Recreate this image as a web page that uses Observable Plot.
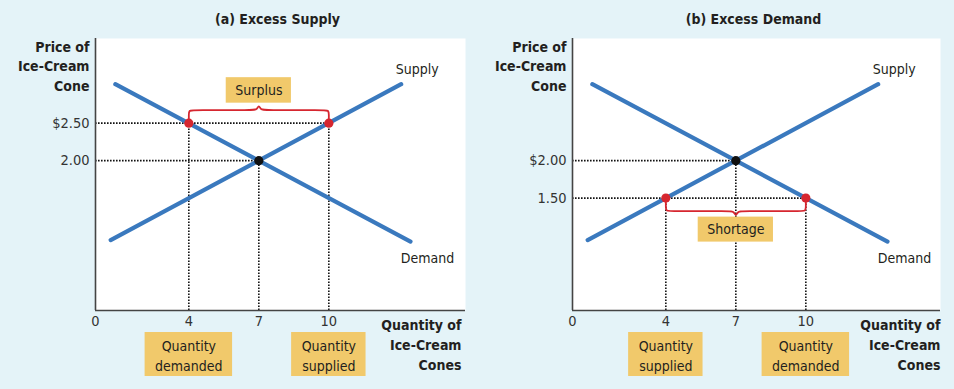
<!DOCTYPE html>
<html><head><meta charset="utf-8">
<script src="https://cdn.jsdelivr.net/npm/d3@7"></script>
<script src="https://cdn.jsdelivr.net/npm/@observablehq/plot@0.6"></script>
<style>
html,body{margin:0;padding:0;background:#e4f3f8;}
#wrap{display:flex;width:954px;height:389px;}
#wrap svg{display:block;flex:none;}
</style></head><body><div id="wrap"></div>
<script>
// ---- data ----
const panelTitles = ["(a) Excess Supply", "(b) Excess Demand"];
const quantityTicks = [0, 4, 7, 10];
const priceTicks = [[2.5, 2.0], [2.0, 1.5]];
const priceTickLabels = [["$2.50", "2.00"], ["$2.00", "1.50"]];
const equilibriumQ = 7;
const equilibriumP = 2.0;
const gapPrice = [2.5, 1.5];
const gapQuantityLow = [4, 4];
const gapQuantityHigh = [10, 10];
const gapLabels = ["Surplus", "Shortage"];
const lowQuantityLabels = ["Quantity\ndemanded", "Quantity\nsupplied"];
const highQuantityLabels = ["Quantity\nsupplied", "Quantity\ndemanded"];
const supplyQ = [0.65, 13.1];
const supplyP = [0.94, 3.02];
const demandQ = [0.85, 13.5];
const demandP = [3.02, 0.92];
const curveNames = ["Supply", "Demand"];
const axisTitleY = "Price of\nIce-Cream\nCone";
const axisTitleX = "Quantity of\nIce-Cream\nCones";

// ---- style ----
const FONT = '"Liberation Sans Narrow", "DejaVu Sans Condensed", Roboto, sans-serif';
const BLUE = "#3a79be", RED = "#d6262f", GOLD = "#f1c96b", INK = "#231f20", AXIS = "#444";
const pxPerQ = 70 / 3;
const yMax = 3.63;
const ctx = document.createElement("canvas").getContext("2d");
function textWidth(s, size, weight = "normal") {
  ctx.font = `${weight} ${size}px ${FONT}`;
  return Math.max(...s.split("\n").map(l => ctx.measureText(l).width));
}

function panel(i) {
  const W = 477, H = 389, mt = 38, mb = 79, ml = 95, mr = i === 0 ? 12 : 14;
  const plotW = W - ml - mr, plotH = H - mt - mb;
  const xMax = plotW / pxPerQ;
  const qPerPx = 1 / pxPerQ, pPerPx = yMax / plotH;
  const p0 = gapPrice[i], q1 = gapQuantityLow[i], q2 = gapQuantityHigh[i];
  const dir = i === 0 ? 1 : -1; // brace above (surplus) or below (shortage)
  const L = (q2 - q1) / qPerPx;
  const braceCtrl = [[0,4],[0,8],[0,13],[5,13],[L/2-5,13],[L/2-2,13.5],[L/2,18.5],[L/2+2,13.5],[L/2+5,13],[L-5,13],[L,13],[L,8],[L,4]];
  const brace = braceCtrl.map(([dx, dy]) => ({q: q1 + dx * qPerPx, p: p0 + dir * dy * pPerPx}));
  const mid = (q1 + q2) / 2;
  const gapW = textWidth(gapLabels[i], 14) + 18;
  const lowW = textWidth(lowQuantityLabels[i], 14) + 20;
  const highW = textWidth(highQuantityLabels[i], 14) + 20;
  const tickMap = new Map(priceTicks[i].map((v, j) => [v, priceTickLabels[i][j]]));
  const supply = supplyQ.map((q, j) => ({q, p: supplyP[j]}));
  const demand = demandQ.map((q, j) => ({q, p: demandP[j]}));
  const hRules = [{p: p0, q: q2}, {p: equilibriumP, q: equilibriumQ}];
  const vRules = [{q: q1, p: p0}, {q: q2, p: p0}, {q: equilibriumQ, p: equilibriumP}];
  const dotted = {stroke: "#111", strokeWidth: 1.6, strokeDasharray: "1.6 1.4"};
  const gapBoxInsets = dir === 1 ? {insetTop: -45.5, insetBottom: 20} : {insetTop: 19, insetBottom: -44};
  const qBox = (q, w) => Plot.rect([q], {x1: d => d, x2: d => d, y1: () => 0, y2: () => 0, fill: GOLD,
    insetLeft: -w / 2, insetRight: -w / 2, insetTop: 22, insetBottom: -66});

  return Plot.plot({
    width: W, height: H,
    marginTop: mt, marginBottom: mb, marginLeft: ml, marginRight: mr,
    x: {domain: [0, xMax]},
    y: {domain: [0, yMax]},
    style: {background: "transparent", fontFamily: FONT, color: INK, overflow: "visible"},
    marks: [
      Plot.frame({fill: "white", stroke: "none"}),
      Plot.ruleY(hRules, {y: "p", x1: 0, x2: "q", ...dotted}),
      Plot.ruleX(vRules, {x: "q", y1: 0, y2: "p", ...dotted}),
      Plot.line(supply, {x: "q", y: "p", stroke: BLUE, strokeWidth: 4.2}),
      Plot.line(demand, {x: "q", y: "p", stroke: BLUE, strokeWidth: 4.2}),
      Plot.line(brace, {x: "q", y: "p", stroke: RED, strokeWidth: 1.8, curve: "basis"}),
      Plot.dot([q1, q2], {x: d => d, y: () => p0, r: 4.6, fill: RED}),
      Plot.dot([equilibriumQ], {x: d => d, y: () => equilibriumP, r: 4.6, fill: "#111"}),
      Plot.ruleX([0], {stroke: AXIS, strokeWidth: 1.6}),
      Plot.ruleY([0], {stroke: AXIS, strokeWidth: 1.6}),
      Plot.axisY({ticks: priceTicks[i], tickFormat: d => tickMap.get(d), tickSize: 0, tickPadding: 6, fontSize: 14.5, label: null, color: "#333"}),
      Plot.axisX({ticks: quantityTicks, tickFormat: d => String(d), tickSize: 0, tickPadding: 5, fontSize: 14.5, label: null, color: "#333"}),
      // gap box + label
      Plot.rect([mid], {x1: d => d, x2: d => d, y1: () => p0, y2: () => p0, fill: GOLD,
        insetLeft: -gapW / 2, insetRight: -gapW / 2, ...gapBoxInsets}),
      Plot.text([gapLabels[i]], {x: () => mid, y: () => p0, dy: dir === 1 ? -32.5 : 31.5, fontSize: 14, fill: INK}),
      // quantity boxes below axis
      qBox(q1, lowW),
      qBox(q2, highW),
      Plot.text([lowQuantityLabels[i]], {x: () => q1, y: () => 0, dy: 44, fontSize: 14, lineHeight: 1.45, lineAnchor: "middle", fill: INK}),
      Plot.text([highQuantityLabels[i]], {x: () => q2, y: () => 0, dy: 44, fontSize: 14, lineHeight: 1.45, lineAnchor: "middle", fill: INK}),
      // curve names
      Plot.text([curveNames[0]], {x: () => supplyQ[1], y: () => supplyP[1], dx: 16, dy: -15, fontSize: 14, fill: INK}),
      Plot.text([curveNames[1]], {x: () => demandQ[1], y: () => demandP[1], dx: 17, dy: 17, fontSize: 14, fill: INK}),
      // titles
      Plot.text([panelTitles[i]], {frameAnchor: "top", lineAnchor: "middle", dx: -3, dy: -19, fontSize: 14, fontWeight: "bold", fill: INK}),
      Plot.text([axisTitleY], {frameAnchor: "top-left", lineAnchor: "middle", textAnchor: "end", dx: -6, dy: 26.5, fontSize: 14, fontWeight: "bold", lineHeight: 1.39, fill: INK}),
      Plot.text([axisTitleX], {frameAnchor: "bottom-right", lineAnchor: "middle", textAnchor: "end", dx: i === 0 ? -4 : 0, dy: 33, fontSize: 14, fontWeight: "bold", lineHeight: 1.42, fill: INK})
    ]
  });
}

const wrap = document.getElementById("wrap");
wrap.append(panel(0), panel(1));
</script>
</body></html>
